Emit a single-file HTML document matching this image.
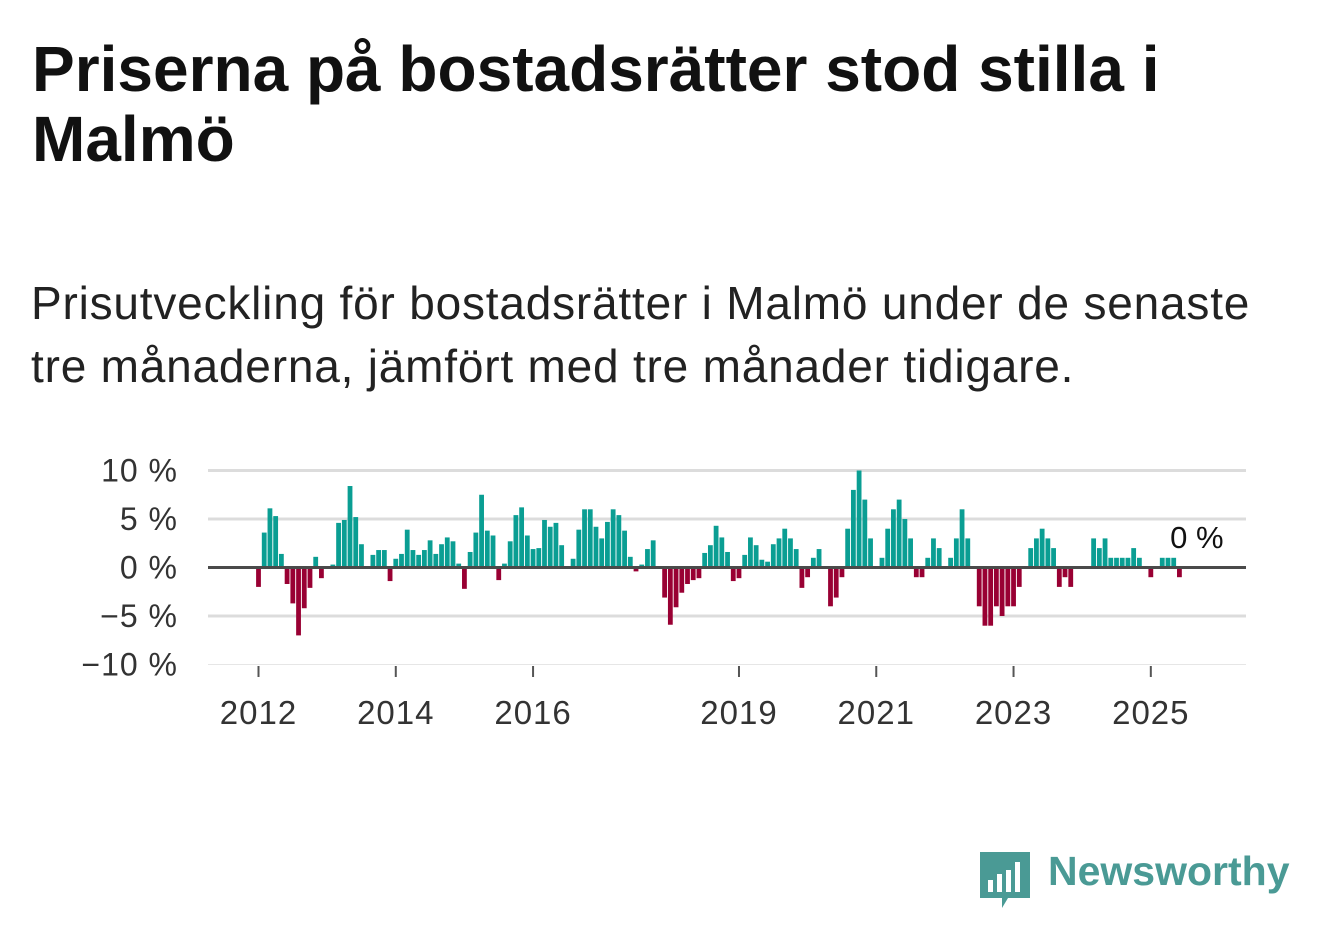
<!DOCTYPE html>
<html><head><meta charset="utf-8">
<style>
body{margin:0;background:#fff;width:1322px;height:939px;overflow:hidden;font-family:"Liberation Sans",sans-serif;}
h1{position:absolute;left:32px;top:34px;margin:0;font-size:64px;line-height:70px;font-weight:bold;color:#111;white-space:nowrap;}
.sub{position:absolute;left:31px;top:272px;margin:0;font-size:46px;line-height:63px;color:#222;letter-spacing:0.8px;white-space:nowrap;}
svg{position:absolute;left:0;top:0;}
</style></head><body>
<h1>Priserna på bostadsrätter stod stilla i<br>Malmö</h1>
<p class="sub">Prisutveckling för bostadsrätter i Malmö under de senaste<br>tre månaderna, jämfört med tre månader tidigare.</p>
<svg id="chart" width="1322" height="939"></svg>
<div style="position:absolute;left:980px;top:850px;">
<svg width="52" height="60" style="position:static"><path d="M0 2 h50 v46 h-22 l-6 10 v-10 h-22z" fill="#4a9a95"/><rect x="8" y="30" width="5" height="12" fill="#fff"/><rect x="17" y="24" width="5" height="18" fill="#fff"/><rect x="26" y="20" width="5" height="22" fill="#fff"/><rect x="35" y="12" width="5" height="30" fill="#fff"/></svg>
<span style="position:absolute;left:68px;top:-2px;font-size:41px;font-weight:bold;color:#4a9a95;white-space:nowrap;">Newsworthy</span>
</div>
<script>
const values=[-2,3.6,6.1,5.3,1.4,-1.7,-3.7,-7,-4.2,-2.1,1.1,-1.1,0,0.3,4.6,4.9,8.4,5.2,2.4,0,1.3,1.8,1.8,-1.4,0.9,1.4,3.9,1.8,1.3,1.8,2.8,1.4,2.4,3.1,2.7,0.4,-2.2,1.6,3.6,7.5,3.8,3.3,-1.3,0.4,2.7,5.4,6.2,3.3,1.9,2.0,4.9,4.2,4.6,2.3,0,0.9,3.9,6.0,6.0,4.2,3.0,4.7,6.0,5.4,3.8,1.1,-0.4,0.3,1.9,2.8,0,-3.1,-5.9,-4.1,-2.6,-1.7,-1.3,-1.1,1.5,2.3,4.3,3.1,1.6,-1.4,-1.1,1.3,3.1,2.3,0.8,0.6,2.4,3.0,4.0,3.0,1.9,-2.1,-1.0,1.0,1.9,0,-4.0,-3.1,-1.0,4.0,8.0,10.0,7.0,3.0,0,1.0,4.0,6.0,7.0,5.0,3.0,-1,-1,1,3,2,0,1,3,6,3,0,-4,-6,-6,-4,-5,-4,-4,-2,0,2,3,4,3,2,-2,-1,-2,0,0,0,3,2,3,1,1,1,1,2,1,0,-1,0,1,1,1,-1,0,0];
const yTicks=[10,5,0,-5,-10];
const yTickLabels=["10 %","5 %","0 %","\u22125 %","\u221210 %"];
const xTickYears=[2012,2014,2016,2019,2021,2023,2025];
const startYear=2012;
const lastLabel="0 %";
const NS="http://www.w3.org/2000/svg";
const svg=document.getElementById('chart');
const x0=258.5,pitch=5.72,xL=208,xR=1246;
const xm=i=>x0+pitch*i;
const xy=yr=>x0+(yr-startYear)*12*pitch;
const y=v=>567.5-v*9.7;
function mk(t,a){const e=document.createElementNS(NS,t);for(const k in a)e.setAttribute(k,a[k]);svg.appendChild(e);return e;}
yTicks.forEach((t,k)=>{
 const g=mk('line',{x1:xL,x2:xR,y1:y(t),y2:y(t),stroke:t===-10?'#e6e6e6':'#dcdcdc','stroke-width':t===-10?1:3});
 
 
 const l=mk('text',{x:178,y:y(t)+11,'text-anchor':'end','font-size':32,'letter-spacing':1,fill:'#333','font-family':'Liberation Sans, sans-serif'});
 l.textContent=yTickLabels[k];
 
 
});
xTickYears.forEach(yr=>{
 const tk=mk('line',{x1:xy(yr),x2:xy(yr),y1:666,y2:677,stroke:'#555','stroke-width':2});
 
 
 const l=mk('text',{x:xy(yr),y:724,'text-anchor':'middle','font-size':33,'letter-spacing':1,fill:'#333','font-family':'Liberation Sans, sans-serif'});
 l.textContent=yr;
 
 
});
values.forEach((v,i)=>{
 if(v===0)return;
 const r=mk('rect',{x:xm(i)-2.4,width:4.8,y:Math.min(y(v),y(0)),height:Math.abs(y(v)-y(0)),fill:v>0?'#0a9e93':'#990033'});
 
 
});
const z=mk('line',{x1:xL,x2:xR,y1:y(0),y2:y(0),stroke:'#4a4a4a','stroke-width':3});


const ll=mk('text',{x:xm(values.length-1)+6,y:548,'text-anchor':'middle','font-size':31,fill:'#111',stroke:'#fff','stroke-width':6,'paint-order':'stroke','font-family':'Liberation Sans, sans-serif'});
ll.textContent=lastLabel;


</script>
</body></html>
